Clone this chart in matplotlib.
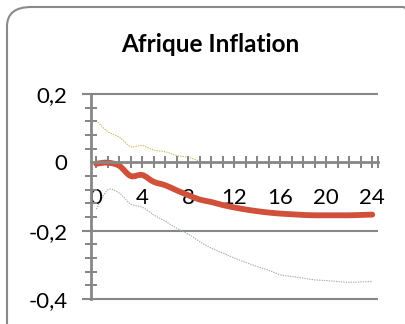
import matplotlib
matplotlib.use("Agg")
import matplotlib.pyplot as plt
from matplotlib.patches import FancyBboxPatch, PathPatch
from matplotlib.path import Path
from matplotlib.ticker import MultipleLocator, FixedLocator, FuncFormatter

# Impulse response of inflation in Africa, with upper / lower bands
horizon = list(range(25))
response = [-0.004, -0.001, -0.010, -0.040, -0.037, -0.057, -0.067, -0.082, -0.096,
            -0.109, -0.116, -0.125, -0.132, -0.138, -0.143, -0.147, -0.150, -0.152,
            -0.154, -0.155, -0.155, -0.155, -0.155, -0.154, -0.153]
upper = [0.123, 0.090, 0.074, 0.046, 0.049, 0.036, 0.031, 0.020, 0.015, 0.004,
         0.000, -0.001, -0.002, -0.002, -0.003, -0.003, -0.003, -0.003, -0.003,
         -0.003, -0.003, -0.003, -0.003, -0.002, -0.002]
lower = [-0.137, -0.081, -0.090, -0.122, -0.131, -0.154, -0.172, -0.193, -0.210,
         -0.232, -0.251, -0.265, -0.280, -0.293, -0.305, -0.316, -0.329, -0.334,
         -0.339, -0.344, -0.346, -0.349, -0.351, -0.350, -0.349]
title = "Afrique Inflation"
y_ticks = [0.2, 0.0, -0.2, -0.4]
x_label_ticks = [0, 4, 8, 12, 16, 20, 24]

plt.rcParams['font.family'] = ['Lato', 'DejaVu Sans']

W, H = 406, 324
PX = 72 / 100  # points per pixel at 100 dpi
fig = plt.figure(figsize=(W / 100, H / 100), dpi=100)

grey = '#878787'


def smooth_path(xs, ys):
    """Catmull-Rom style cubic Bezier path through the points (smoothed line)."""
    verts = [(xs[0], ys[0])]
    codes = [Path.MOVETO]
    n = len(xs)
    for i in range(n - 1):
        x0, y0 = (xs[i - 1], ys[i - 1]) if i > 0 else (xs[i], ys[i])
        x1, y1 = xs[i], ys[i]
        x2, y2 = xs[i + 1], ys[i + 1]
        x3, y3 = (xs[i + 2], ys[i + 2]) if i + 2 < n else (x2, y2)
        c1 = (x1 + (x2 - x0) / 6, y1 + (y2 - y0) / 6)
        c2 = (x2 - (x3 - x1) / 6, y2 - (y3 - y1) / 6)
        verts += [c1, c2, (x2, y2)]
        codes += [Path.CURVE4] * 3
    return Path(verts, codes)


# rounded chart border
frame = FancyBboxPatch((7 / W, -20 / H), 420 / W, (H - 7 + 20) / H,
                       boxstyle="round,pad=0,rounding_size=0.06",
                       transform=fig.transFigure, facecolor='none',
                       edgecolor='#8a8a8a', linewidth=1.5, zorder=-1)
fig.patches.append(frame)

ax = fig.add_axes([91 / W, 25 / H, 287 / W, 205 / H])
ax.patch.set_alpha(0)

ax.add_patch(PathPatch(smooth_path(horizon, upper), facecolor='none', edgecolor='#cdb85e',
                       lw=0.8, ls=(0, (1.2, 1.0)), zorder=1.5))
ax.add_patch(PathPatch(smooth_path(horizon, lower), facecolor='none', edgecolor='#a3adad',
                       lw=0.8, ls=(0, (1.2, 1.0)), zorder=1.5))
ax.add_patch(PathPatch(smooth_path(horizon, response), facecolor='none', edgecolor='#d0503a',
                       lw=4.2, capstyle='round', joinstyle='round', zorder=2))

ax.set_xlim(-0.45, 24.5)
ax.set_ylim(-0.4, 0.2)

for yv in (0.2, -0.2, -0.4):
    ax.plot([-0.45 - 0.8, 24.5], [yv, yv], color=grey, lw=1.5,
            clip_on=False, zorder=1, solid_capstyle='butt')

for s in ('top', 'right'):
    ax.spines[s].set_visible(False)
ax.spines['bottom'].set_position(('data', 0))
for s in ('left', 'bottom'):
    ax.spines[s].set_color(grey)
    ax.spines[s].set_linewidth(2)

ax.yaxis.set_major_locator(FixedLocator(y_ticks))
ax.yaxis.set_minor_locator(MultipleLocator(0.04))
ax.yaxis.set_major_formatter(FuncFormatter(lambda v, p: ('%g' % round(v, 2)).replace('.', ',')))
ax.tick_params(axis='y', which='major', direction='out', length=0,
               color=grey, labelsize=16, pad=17)
ax.tick_params(axis='y', which='minor', direction='inout', length=12 * PX,
               width=2 * PX, color=grey)

ax.xaxis.set_major_locator(FixedLocator(x_label_ticks))
ax.xaxis.set_minor_locator(FixedLocator(list(range(25)) + [24.5]))
ax.tick_params(axis='x', which='both', direction='inout', length=12 * PX,
               width=2 * PX, color=grey)
ax.tick_params(axis='x', which='major', labelsize=16, pad=14)

fig.text(210 / W, 1 - 45 / H, title, ha='center', va='center',
         fontsize=17.5, fontweight='bold')

fig.savefig('out.png', dpi=100)
